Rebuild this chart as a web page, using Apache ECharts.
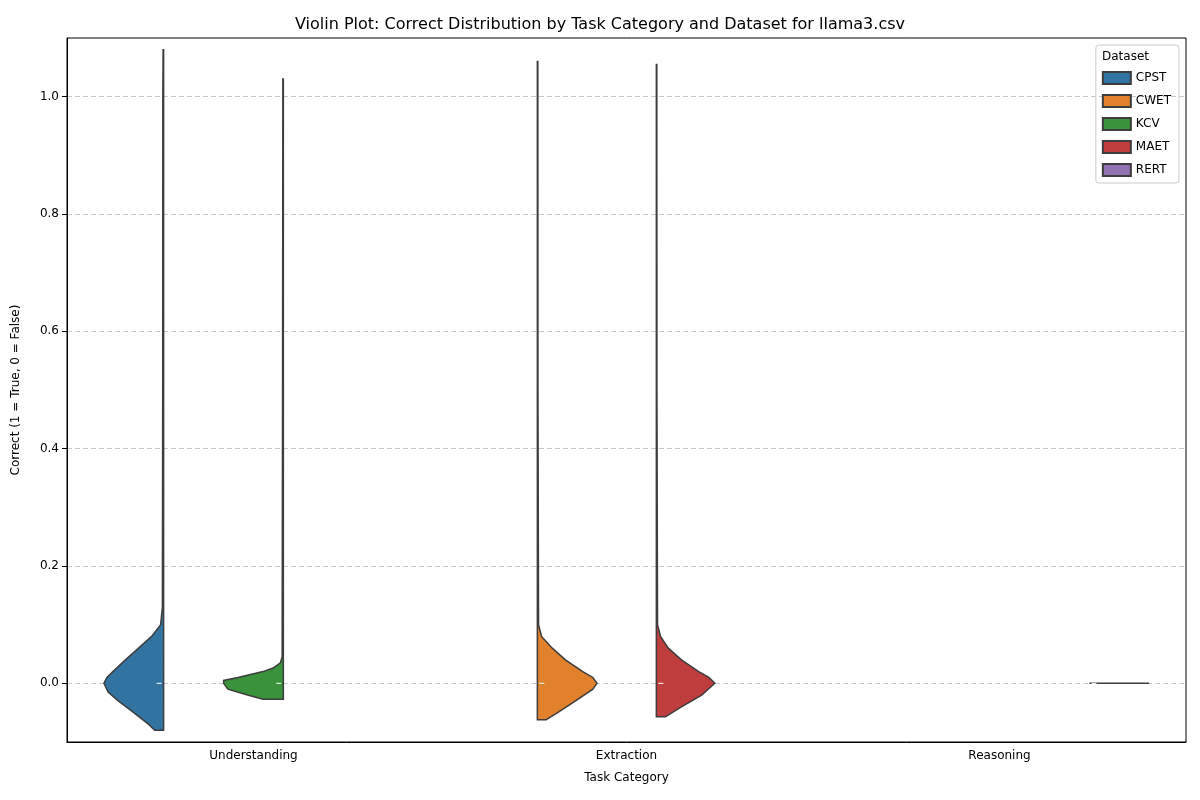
<!DOCTYPE html>
<html>
<head>
<meta charset="utf-8">
<script src="https://cdn.jsdelivr.net/npm/echarts@6/dist/echarts.min.js"></script>
<style>html,body{margin:0;padding:0;background:#fff}#chart{width:1200px;height:800px}</style>
</head>
<body>
<div id="chart"></div>
<script>
var categories = ["Understanding", "Extraction", "Reasoning"];
var datasets = ["CPST", "CWET", "KCV", "MAET", "RERT"];
var colors = ["#3274a1", "#e1812c", "#3a923a", "#c03d3e", "#9372b2"];
var yTicks = [0, 0.2, 0.4, 0.6, 0.8, 1.0];

// category index each dataset sits in, and its split side (-1 left half, 1 right half)
var datasetCategory = [0, 1, 0, 1, 2];
var datasetSide = [-1, 1, -1, 1, 1];

// density profiles: [correct value, relative density]
var cpstDensity = [[-0.08, 0.15], [-0.07, 0.25], [-0.05, 0.5], [-0.03, 0.76], [-0.015, 0.93], [0, 1], [0.01, 0.95], [0.02, 0.85], [0.04, 0.64], [0.06, 0.42], [0.08, 0.2], [0.1, 0.05], [0.13, 0.02], [0.5, 0.015], [1.0, 0.013], [1.08, 0.008]];
var cwetDensity = [[-0.062, 0.15], [-0.05, 0.34], [-0.03, 0.64], [-0.01, 0.93], [0, 1], [0.01, 0.93], [0.02, 0.76], [0.04, 0.47], [0.06, 0.25], [0.08, 0.07], [0.1, 0.02], [0.5, 0.01], [1.06, 0.008]];
var kcvDensity = [[-0.027, 0.34], [-0.02, 0.6], [-0.01, 0.93], [0, 1], [0.005, 1], [0.01, 0.76], [0.02, 0.34], [0.026, 0.17], [0.035, 0.05], [0.045, 0.02], [0.5, 0.013], [1.03, 0.008]];
var maetDensity = [[-0.057, 0.15], [-0.04, 0.42], [-0.02, 0.76], [0, 0.98], [0.01, 0.88], [0.02, 0.71], [0.04, 0.42], [0.06, 0.2], [0.08, 0.07], [0.1, 0.02], [0.5, 0.01], [1.055, 0.008]];
var rertDensity = [[0, 1], [0, 1]];
var densities = [cpstDensity, cwetDensity, kcvDensity, maetDensity, rertDensity];
var medians = [0, 0, 0, 0, 0];

var slotOffset = [-0.241, -0.239, 0.08, 0.08, 0.241];
var halfWidth = 0.16;

var chart = echarts.init(document.getElementById("chart"));

var series = datasets.map(function (name, i) {
  return {
    name: name,
    type: "custom",
    xAxisIndex: 1,
    itemStyle: { color: colors[i], borderColor: "#3d3d3d", borderWidth: 1.5 },
    data: [[datasetCategory[i] + slotOffset[i], medians[i]]],
    renderItem: function (params, api) {
      var edge = api.value(0);
      var side = datasetSide[i];
      var prof = densities[i];
      var pts = [];
      var k;
      for (k = 0; k < prof.length; k++) pts.push(api.coord([edge + side * prof[k][1] * halfWidth, prof[k][0]]));
      for (k = prof.length - 1; k >= 0; k--) pts.push(api.coord([edge, prof[k][0]]));
      var m = api.coord([edge, api.value(1)]);
      return {
        type: "group",
        children: [
          { type: "polygon", shape: { points: pts }, style: { fill: colors[i], stroke: "#3d3d3d", lineWidth: 1.5 } },
          { type: "line", shape: { x1: m[0] + side * 2, y1: m[1], x2: m[0] + side * 7, y2: m[1] }, style: { stroke: "#fff", lineWidth: 1 } }
        ]
      };
    }
  };
});

chart.setOption({
  animation: false,
  title: {
    text: "Violin Plot: Correct Distribution by Task Category and Dataset for llama3.csv",
    left: "center", top: 12,
    textStyle: { fontSize: 16, fontWeight: "normal", color: "#000", fontFamily: "DejaVu Sans" }
  },
  grid: { left: 67, right: 14, top: 38, bottom: 58, show: true, borderColor: "#000", borderWidth: 1 },
  legend: {
    orient: "vertical", right: 21, top: 45,
    data: datasets.map(function (n) { return { name: n, icon: "rect" }; }),
    itemWidth: 28, itemHeight: 12, itemGap: 9,
    padding: [26, 8, 6, 6],
    borderColor: "#ccc", borderWidth: 1, borderRadius: 3,
    textStyle: { fontSize: 12, color: "#000", fontFamily: "DejaVu Sans" }
  },
  graphic: [{ type: "text", right: 51, top: 51, style: { text: "Dataset", fontSize: 12, fill: "#000", fontFamily: "DejaVu Sans" } }],
  xAxis: [{
    type: "category", data: categories,
    name: "Task Category", nameLocation: "middle", nameGap: 30,
    nameTextStyle: { fontSize: 12, color: "#000", fontFamily: "DejaVu Sans" },
    axisLine: { onZero: false, lineStyle: { color: "#000" } },
    axisTick: { alignWithLabel: true, lineStyle: { color: "#000" } },
    axisLabel: { color: "#000", fontSize: 12, fontFamily: "DejaVu Sans" },
    splitLine: { show: false }
  }, {
    type: "value", min: -0.5, max: 2.5, show: false
  }],
  yAxis: {
    type: "value", min: -0.1, max: 1.1,
    name: "Correct (1 = True, 0 = False)", nameLocation: "middle", nameGap: 45,
    nameTextStyle: { fontSize: 12, color: "#000", fontFamily: "DejaVu Sans" },
    axisLine: { show: true, onZero: false, lineStyle: { color: "#000" } },
    axisTick: { show: true, customValues: yTicks, lineStyle: { color: "#000" } },
    axisLabel: { customValues: yTicks, color: "#000", fontSize: 12, fontFamily: "DejaVu Sans", formatter: function (v) { return v.toFixed(1); } },
    splitLine: { show: true, lineStyle: { color: "#c8c8c8", type: [5, 3] } }
  },
  series: series
});
</script>
</body>
</html>
